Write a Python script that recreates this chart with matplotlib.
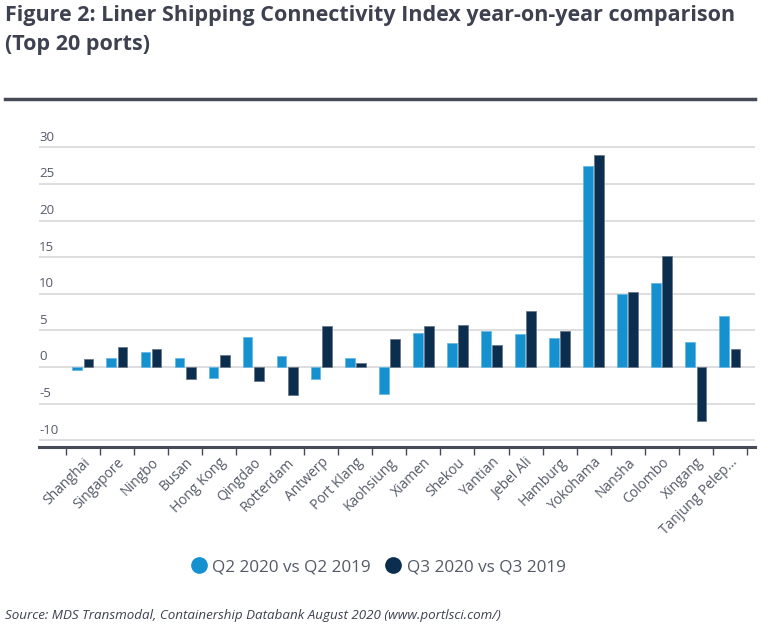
import matplotlib.pyplot as plt
import numpy as np
from matplotlib.lines import Line2D

ports = ['Shanghai', 'Singapore', 'Ningbo', 'Busan', 'Hong Kong', 'Qingdao',
         'Rotterdam', 'Antwerp', 'Port Klang', 'Kaohsiung', 'Xiamen', 'Shekou',
         'Yantian', 'Jebel Ali', 'Hamburg', 'Yokohama', 'Nansha', 'Colombo',
         'Xingang', 'Tanjung Pelep...']
q2 = [-0.4, 1.2, 2.0, 1.2, -1.45, 4.05, 1.55, -1.6, 1.2, -3.7,
      4.65, 3.25, 4.85, 4.55, 3.95, 27.4, 9.95, 11.45, 3.35, 6.9]
q3 = [1.05, 2.7, 2.5, -1.7, 1.6, -1.9, -3.8, 5.55, 0.55, 3.85,
      5.55, 5.7, 2.95, 7.7, 4.95, 28.9, 10.2, 15.2, -7.45, 2.4]
yticks = [-10, -5, 0, 5, 10, 15, 20, 25, 30]
series = ['Q2 2020 vs Q2 2019', 'Q3 2020 vs Q3 2019']

light = '#1591d0'
dark = '#0b2d4e'
text_col = '#555a68'

plt.rcParams['font.family'] = ['Open Sans', 'DejaVu Sans']

fig = plt.figure(figsize=(7.72, 6.36), dpi=100)
ax = fig.add_axes([39/772, 1 - 446.7/636, (755 - 39)/772, (446.7 - 140)/636])

x = np.arange(len(ports))
w = 0.285
ax.bar(x - 0.165, q2, w, color=light, edgecolor='#6ab8e2', linewidth=0.6, zorder=3)
ax.bar(x + 0.165, q3, w, color=dark, edgecolor='#6b7888', linewidth=0.6, zorder=3)

ax.set_xlim(-0.5 - 0.79, 19.5 + 0.24)
ax.set_ylim(-10.9, 31)

for v in yticks:
    ax.axhline(v, color='#d8d8dc', linewidth=1.2, zorder=1)
    ax.annotate(str(v), xy=(0, v), xycoords=('axes fraction', 'data'),
                xytext=(0, 2.5), textcoords='offset points',
                ha='left', va='bottom', fontsize=9.5, color=text_col)
ax.set_yticks([])

for s in ['top', 'right', 'left']:
    ax.spines[s].set_visible(False)
ax.spines['bottom'].set_color('#464a56')
ax.spines['bottom'].set_linewidth(2.2)
ax.spines['bottom'].set_position(('data', -10.9))

ax.set_xticks(np.arange(-0.5, 20, 1), minor=False)
ax.set_xticklabels([])
ax.tick_params(axis='x', length=6, width=1, color='#464a56')
ax.set_xticks(x, minor=True)
ax.set_xticklabels(ports, minor=True, rotation=45, ha='right',
                   rotation_mode='anchor', fontsize=10, color=text_col)
ax.tick_params(axis='x', which='minor', length=0, pad=6)

fig.text(5/772, 1 - 5/636, 'Figure 2: Liner Shipping Connectivity Index year-on-year comparison\n(Top 20 ports)',
         ha='left', va='top', fontsize=15.5, fontweight='bold', color='#3d4150',
         linespacing=1.5)
fig.add_artist(Line2D([5/772, 755/772], [1 - 99/636, 1 - 99/636],
                      color='#464a56', linewidth=2.5))

handles = [Line2D([], [], marker='o', linestyle='', markersize=11, color=c)
           for c in (light, dark)]
fig.legend(handles, series, loc='center', bbox_to_anchor=(378/772, 1 - 567/636),
           ncol=2, frameon=False, fontsize=12.3, labelcolor=text_col,
           handletextpad=0.3, columnspacing=0.8, handlelength=1.0)

fig.text(5/772, 1 - 615/636, 'Source: MDS Transmodal, Containership Databank August 2020 (www.portlsci.com/)',
         ha='left', va='center', fontsize=9.6, style='italic', color='#3d4150')

fig.savefig('out.png', dpi=100)
